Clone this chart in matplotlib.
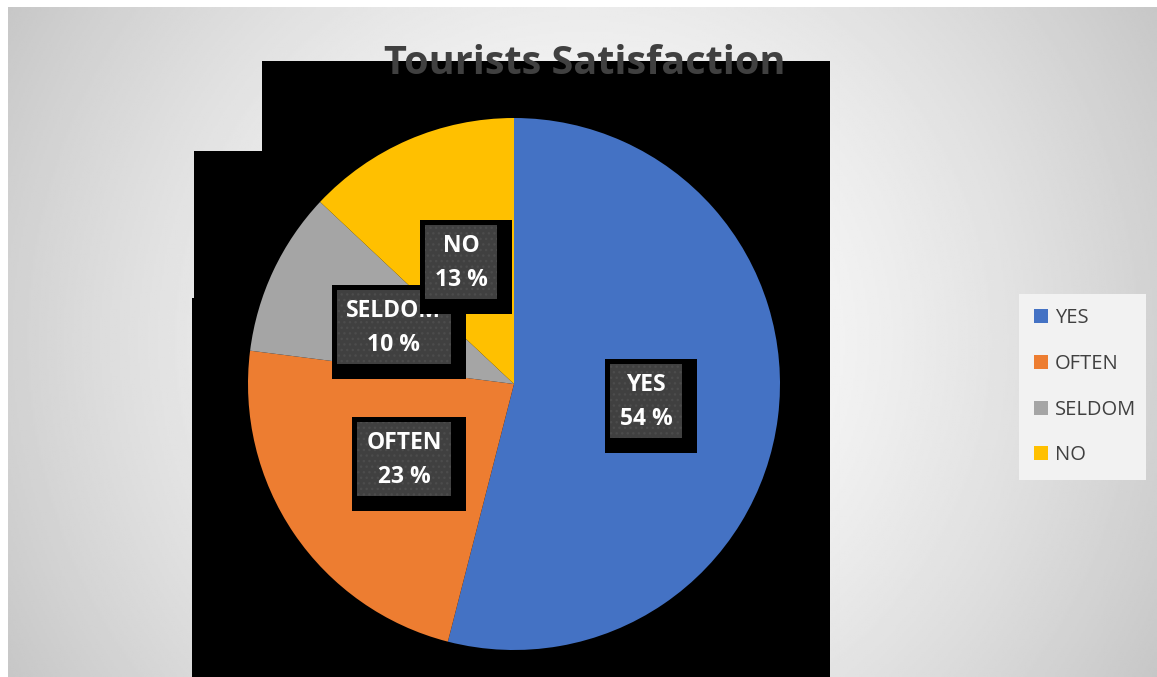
import matplotlib.pyplot as plt
from matplotlib.patches import Rectangle, Polygon
import numpy as np

# Survey answers and their shares (percent)
categories = ['YES', 'OFTEN', 'SELDOM', 'NO']
percent = [54, 23, 10, 13]
colors = ['#4472C4', '#ED7D31', '#A5A5A5', '#FFC000']
title = 'Tourists Satisfaction'

plt.rcParams['font.family'] = ['Open Sans', 'DejaVu Sans']

W, H = 1157, 677
fig = plt.figure(figsize=(W / 100, H / 100), dpi=100)
fig.patch.set_facecolor('white')
ax = fig.add_axes([0, 0, 1, 1])


def up(y):
    # screen row -> axes y (axes y grows upwards)
    return H - y


# grey radial background of the chart area
gx = np.linspace(8, W, 580)
gy = np.linspace(7, H, 340)
X, Y = np.meshgrid(gx, gy)
d = np.hypot(X - 583, Y - 340) / 665
shade = 1 - 0.22 * d ** 1.5
ax.imshow(shade, cmap='gray', vmin=0, vmax=1, extent=[8, W, 0, up(7)],
          origin='upper', aspect='auto', zorder=0)

# black block sitting behind the pie
block = [(262, 61), (830, 61), (830, H), (192, H), (192, 298),
         (194, 298), (194, 151), (262, 151)]
ax.add_patch(Polygon([(x, up(y)) for x, y in block], closed=True,
                     facecolor='black', edgecolor='none', zorder=1))

cx, cy, r = 514, up(384), 266
wedges, _ = ax.pie(percent, colors=colors, startangle=90, counterclock=False,
                   center=(cx, cy), radius=r, frame=True,
                   wedgeprops=dict(linewidth=0, zorder=2))

ax.set_aspect('auto')
ax.set_xlim(0, W)
ax.set_ylim(0, H)
ax.axis('off')

# data labels: white text on a dotted dark box with a black shadow
fig.canvas.draw()
renderer = fig.canvas.get_renderer()
for i, (w, cat, p) in enumerate(zip(wedges, categories, percent)):
    ang = np.deg2rad((w.theta1 + w.theta2) / 2)
    x = cx + 0.5 * r * np.cos(ang)
    y = cy + 0.5 * r * np.sin(ang)
    z = 5 + 3 * i
    txt = ax.text(x, y - 1, f'{cat}\n{p} %', ha='center', va='center',
                  color='white', fontsize=16.5, fontweight='bold',
                  linespacing=1.55, zorder=z + 2)
    bb = txt.get_window_extent(renderer)
    bw, bh = bb.width + 19, 74
    ax.add_patch(Rectangle((x - bw / 2 - 5, y - bh / 2 - 15), bw + 20, bh + 20,
                           facecolor='black', edgecolor='none', zorder=z))
    ax.add_patch(Rectangle((x - bw / 2, y - bh / 2), bw, bh,
                           facecolor='#404040', edgecolor='#4c4c4c',
                           hatch='...', linewidth=0, zorder=z + 1))

ax.text(585, up(74), title, ha='center', va='baseline', fontsize=28.5,
        fontweight='bold', color='#404040', zorder=30)

leg = ax.legend(wedges, categories, loc='upper left',
                bbox_to_anchor=(1019 / W, up(294) / H - 0.01, 127 / W, 0.01),
                bbox_transform=fig.transFigure, mode='expand',
                frameon=True, fancybox=False, facecolor='#F2F2F2',
                edgecolor='none', framealpha=1, fontsize=14.5,
                handlelength=0.7, handleheight=0.7, handletextpad=0.35,
                labelspacing=1.27, borderpad=0.72, borderaxespad=0)
leg.set_zorder(30)
for t in leg.get_texts():
    t.set_color('#404040')

fig.savefig('out.png', dpi=100)
